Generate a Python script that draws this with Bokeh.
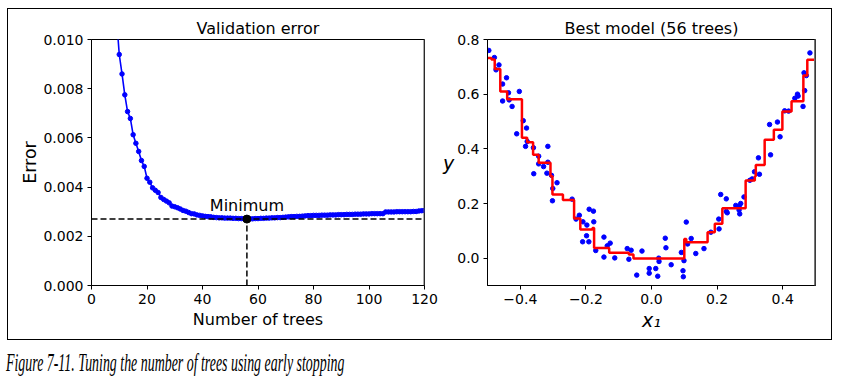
import numpy as np
from bokeh.plotting import figure
from bokeh.models import FixedTicker, Span, Div, Range1d
from bokeh.layouts import row, column
from bokeh.embed import file_html
from bokeh.resources import INLINE
from bokeh.core.properties import value

# ---------------- data: validation error vs number of trees ----------------
n_trees = list(range(1, 121))
val_errors = [
    0.0660, 0.0540, 0.0445, 0.0365, 0.0300, 0.0225, 0.0175, 0.0140, 0.0109, 0.00939,
    0.00860, 0.00775, 0.00707, 0.00679, 0.00613, 0.00578, 0.00545, 0.00508, 0.00484, 0.00436,
    0.00420, 0.00397, 0.00387, 0.00378, 0.00358, 0.00350, 0.00343, 0.00336, 0.00323, 0.00320,
    0.00316, 0.00311, 0.00305, 0.00302, 0.00297, 0.00292, 0.00291, 0.00287, 0.00285, 0.00283,
    0.00281, 0.00280, 0.00279, 0.00277, 0.00276, 0.00275, 0.00275, 0.00274, 0.00274, 0.00274,
    0.00273, 0.00273, 0.00272, 0.00272, 0.00271, 0.00270, 0.00271, 0.00271, 0.00272, 0.00272,
    0.00273, 0.00273, 0.00274, 0.00274, 0.00275, 0.00275, 0.00276, 0.00276, 0.00277, 0.00278,
    0.00279, 0.00280, 0.00280, 0.00281, 0.00281, 0.00282, 0.00283, 0.00284, 0.00284, 0.00285,
    0.00285, 0.00285, 0.00286, 0.00286, 0.00286, 0.00287, 0.00287, 0.00287, 0.00288, 0.00288,
    0.00288, 0.00289, 0.00289, 0.00289, 0.00290, 0.00290, 0.00290, 0.00291, 0.00291, 0.00291,
    0.00292, 0.00292, 0.00292, 0.00292, 0.00292, 0.00299, 0.00299, 0.00299, 0.00299, 0.00300,
    0.00300, 0.00300, 0.00300, 0.00300, 0.00300, 0.00301, 0.00301, 0.00303, 0.00304, 0.00305,
]
left_xticks = [0, 20, 40, 60, 80, 100, 120]
left_yticks = [0.000, 0.002, 0.004, 0.006, 0.008, 0.010]

# ---------------- data: training points and best model prediction ----------------
x_points = [
    -0.496, -0.479, -0.465, -0.474, -0.442, -0.454, -0.436, -0.403, -0.454, -0.434,
    -0.425, -0.391, -0.381, -0.411, -0.379, -0.384, -0.360, -0.316, -0.344, -0.344,
    -0.329, -0.316, -0.359, -0.319, -0.305, -0.288, -0.301, -0.302, -0.242, -0.220,
    -0.230, -0.209, -0.190, -0.177, -0.197, -0.176, -0.198, -0.210, -0.191, -0.170,
    -0.145, -0.145, -0.135, -0.126, -0.112, -0.074, -0.062, -0.069, -0.029, -0.045,
    -0.007, -0.007, 0.013, 0.019, 0.022, 0.023, 0.042, 0.044, 0.060, 0.091,
    0.096, 0.097, 0.099, 0.106, 0.110, 0.121, 0.135, 0.160, 0.181, 0.206,
    0.205, 0.211, 0.228, 0.228, 0.231, 0.257, 0.267, 0.272, 0.267, 0.269,
    0.282, 0.300, 0.307, 0.314, 0.326, 0.329, 0.360, 0.363, 0.384, 0.392,
    0.406, 0.418, 0.437, 0.445, 0.447, 0.462, 0.467, 0.472, 0.465, 0.483,
]
y_points = [
    0.760, 0.734, 0.707, 0.689, 0.660, 0.637, 0.605, 0.610, 0.575, 0.579,
    0.555, 0.503, 0.476, 0.455, 0.427, 0.409, 0.404, 0.409, 0.373, 0.345,
    0.335, 0.351, 0.309, 0.311, 0.303, 0.276, 0.255, 0.210, 0.216, 0.157,
    0.143, 0.133, 0.179, 0.172, 0.121, 0.133, 0.082, 0.060, 0.060, 0.028,
    0.077, 0.004, 0.045, 0.055, 0.001, 0.035, 0.029, -0.004, 0.026, -0.062,
    -0.038, -0.055, -0.038, -0.066, 0.000, -0.012, 0.073, 0.038, -0.024, 0.021,
    -0.046, -0.068, -0.009, 0.132, 0.052, 0.072, 0.017, 0.035, 0.095, 0.107,
    0.143, 0.233, 0.217, 0.171, 0.166, 0.193, 0.190, 0.200, 0.176, 0.162,
    0.224, 0.285, 0.290, 0.316, 0.367, 0.307, 0.489, 0.378, 0.498, 0.444,
    0.539, 0.538, 0.585, 0.600, 0.593, 0.555, 0.613, 0.668, 0.678, 0.751,
]
# step-wise prediction of the ensemble: start of each constant piece and its level
step_starts = [
    -0.500, -0.488, -0.478, -0.461, -0.440, -0.395, -0.379, -0.361, -0.344, -0.308,
    -0.302, -0.270, -0.236, -0.217, -0.180, -0.175, -0.129, -0.069, -0.055, 0.100,
    0.106, 0.171, 0.193, 0.216, 0.287, 0.315, 0.318, 0.345, 0.373, 0.399,
    0.427, 0.463, 0.475, 0.500,
]
step_levels = [
    0.732, 0.727, 0.692, 0.610, 0.581, 0.441, 0.424, 0.378, 0.349, 0.300,
    0.233, 0.213, 0.145, 0.105, 0.110, 0.037, 0.020, 0.013, -0.001, 0.070,
    0.058, 0.095, 0.126, 0.183, 0.284, 0.300, 0.341, 0.433, 0.470, 0.537,
    0.574, 0.668, 0.726, 0.726,
]
right_xticks = [-0.4, -0.2, 0.0, 0.2, 0.4]
right_xlabels = ["\u22120.4", "\u22120.2", "0.0", "0.2", "0.4"]
right_yticks = [0.0, 0.2, 0.4, 0.6, 0.8]
right_ylabels = ["0.0", "0.2", "0.4", "0.6", "0.8"]

caption_text = "Figure 7-11. Tuning the number of trees using early stopping"

FONT = "DejaVu Sans"

best_idx = int(np.argmin(val_errors))
best_n = n_trees[best_idx]
min_err = val_errors[best_idx]


def style(p):
    p.title.text_font = FONT
    p.title.text_font_style = "normal"
    p.title.text_font_size = "16px"
    p.title.text_color = "black"
    p.title.align = "center"
    p.title.standoff = 4
    p.xgrid.visible = False
    p.ygrid.visible = False
    p.outline_line_color = "black"
    p.outline_line_width = 1
    p.background_fill_color = "white"
    p.border_fill_color = "white"
    for ax in (p.xaxis[0], p.yaxis[0]):
        ax.major_label_text_font = FONT
        ax.major_label_text_font_size = "14px"
        ax.major_label_text_color = "black"
        ax.axis_label_text_font = FONT
        ax.axis_label_text_font_style = "normal"
        ax.axis_label_text_color = "black"
        ax.major_tick_out = 4
        ax.major_tick_in = 0
        ax.minor_tick_line_color = None
        ax.axis_line_color = "black"
        ax.major_tick_line_color = "black"
        ax.major_label_standoff = 4


# ---------------- left figure ----------------
p1 = figure(width=431, height=330, x_range=Range1d(0, 120), y_range=Range1d(0, 0.010),
            output_backend="svg", toolbar_location=None, title="Validation error",
            min_border_left=83, min_border_right=15, min_border_top=30, min_border_bottom=54)
style(p1)
p1.xaxis[0].ticker = FixedTicker(ticks=left_xticks)
p1.yaxis[0].ticker = FixedTicker(ticks=left_yticks)
p1.yaxis[0].major_label_overrides = {t: f"{t:.3f}" for t in left_yticks}
p1.xaxis[0].axis_label = "Number of trees"
p1.xaxis[0].axis_label_text_font_size = "16px"
p1.xaxis[0].axis_label_standoff = 3
p1.yaxis[0].axis_label = "Error"
p1.yaxis[0].axis_label_text_font_size = "17.5px"
p1.yaxis[0].axis_label_standoff = 0

p1.line(n_trees, val_errors, line_color="blue", line_width=1.6)
p1.scatter(n_trees, val_errors, size=4.5, fill_color="blue", line_color="blue")
p1.add_layout(Span(location=min_err, dimension="width", line_color="black",
                   line_width=1.5, line_dash="6 3"))
p1.segment(x0=[best_n], y0=[0], x1=[best_n], y1=[min_err], line_color="black",
           line_width=1.5, line_dash="6 3")
p1.scatter([best_n], [min_err], size=8, fill_color="black", line_color="black")
p1.text(x=[best_n], y=[min_err * 1.2], text=["Minimum"], text_align="center",
        text_baseline="alphabetic", text_font=value(FONT), text_font_size="16px",
        text_color="black")
p1.add_layout(Span(location=120, dimension="height", line_color="#555555", line_width=2))

# ---------------- right figure ----------------
p2 = figure(width=392, height=330, x_range=Range1d(-0.5, 0.5), y_range=Range1d(-0.1, 0.8),
            output_backend="svg", toolbar_location=None, title=f"Best model ({best_n} trees)",
            min_border_left=42, min_border_right=16, min_border_top=30, min_border_bottom=54)
style(p2)
p2.xaxis[0].ticker = FixedTicker(ticks=right_xticks)
p2.yaxis[0].ticker = FixedTicker(ticks=right_yticks)
p2.xaxis[0].major_label_overrides = dict(zip(right_xticks, right_xlabels))
p2.yaxis[0].major_label_overrides = dict(zip(right_yticks, right_ylabels))
p2.xaxis[0].axis_label = "x\u2081"
p2.xaxis[0].axis_label_text_font_size = "19px"
p2.xaxis[0].axis_label_text_font_style = "italic"
p2.xaxis[0].axis_label_standoff = 2

p2.yaxis[0].axis_label = "y"
p2.yaxis[0].axis_label_text_font_size = "19px"
p2.yaxis[0].axis_label_text_font_style = "italic"
p2.yaxis[0].axis_label_standoff = 0
try:
    p2.yaxis[0].axis_label_orientation = "horizontal"
except Exception:
    pass

p2.scatter(x_points, y_points, size=4.5, fill_color="blue", line_color="blue")
p2.step(step_starts, step_levels, mode="after", line_color="red", line_width=2.5)
p2.add_layout(Span(location=0.5, dimension="height", line_color="#777777", line_width=3))

box = row(p1, p2, styles={"border": "1px solid black"}, margin=(8, 0, 0, 7))
caption = Div(text=caption_text, width=826, height=34,
              styles={"font-family": "Liberation Serif", "font-style": "italic",
                      "font-size": "25px", "color": "black", "white-space": "nowrap",
                      "transform": "scaleX(0.556)", "transform-origin": "left center",
                      "margin-top": "5px", "margin-left": "6px"})
layout = column(box, caption)

open("out.html", "w").write(file_html(layout, INLINE))
